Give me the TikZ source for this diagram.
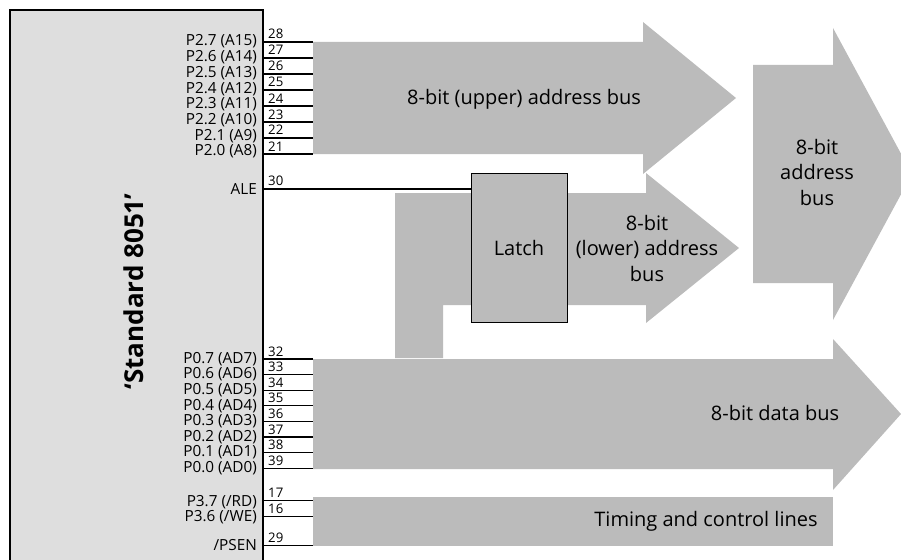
\documentclass[tikz,border=0pt]{standalone}
\usepackage{fontspec}
\setmainfont{Open Sans}
\definecolor{busgray}{RGB}{187,187,187}
\definecolor{chipgray}{RGB}{222,222,222}
\tikzset{
  bus/.style={fill=busgray, draw=none},
  pinline/.style={draw=black, line width=1.1pt},
  pinlabel/.style={anchor=base east, inner sep=0pt, font=\fontsize{15.3}{15}\selectfont},
  pinnum/.style={anchor=base west, inner sep=0pt, font=\fontsize{13.2}{14}\selectfont},
  buslabel/.style={inner sep=0pt, align=center, font=\fontsize{20}{25.5}\selectfont},
}
\begin{document}
\begin{tikzpicture}[x=1pt, y=-1pt]
\useasboundingbox (0,0) rectangle (901,559);
% chip
\draw[fill=chipgray, line width=2.6pt] (10,10) rectangle (263,580);
\node[rotate=90, inner sep=0pt, font=\fontsize{26}{28}\bfseries] (chip) at (134,291.5) {‘Standard 8051’};
% buses
\path[bus] (313,42) -- (643,42) -- (643,22) -- (736,98) -- (643,174) -- (643,154) -- (313,154) -- cycle;
\path[bus] (395,358) -- (395,193) -- (646,193) -- (646,173) -- (739,248) -- (646,323) -- (646,305) -- (443,305) -- (443,358) -- cycle;
\path[bus] (313,359) -- (833,359) -- (833,339) -- (901,414) -- (833,490) -- (833,469) -- (313,469) -- cycle;
\path[bus] (753,65) -- (833,65) -- (833,28) -- (912,174) -- (833,320) -- (833,283) -- (753,283) -- cycle;
\path[bus] (313,497) rectangle (833,546);
% latch
\node[draw=black, fill=busgray, line width=1pt, minimum width=96pt, minimum height=149pt, inner sep=0pt,
      font=\fontsize{20}{22}\selectfont] (latch) at (519,247.5) {Latch};
% bus labels
\node[buslabel] (upper) at (524,99) {8-bit (upper) address bus};
\node[buslabel] (lower) at (647,248) {8-bit\\(lower) address\\bus};
\node[buslabel] (addr) at (817,172) {8-bit\\address\\bus};
\node[buslabel] (data) at (775,413) {8-bit data bus};
\node[buslabel] (timing) at (706,521) {Timing and control lines};
% upper address pins
\foreach \n/\lab [count=\i from 0] in {28/P2.7 (A15),27/P2.6 (A14),26/P2.5 (A13),25/P2.4 (A12),24/P2.3 (A11),23/P2.2 (A10),22/P2.1 (A9),21/P2.0 (A8)}{
  \coordinate (pa\i) at (263,42+16*\i);
  \coordinate (pb\i) at (313,42+16*\i);
  \draw[pinline] (pa\i) -- (pb\i);
  \node[pinnum] (num\n) at (268,39+16*\i) {\n};
  \node[pinlabel] (lab\n) at (257,46+15.7*\i) {\lab};
}
% ALE
\coordinate (alea) at (263,189);
\draw[pinline] (alea) -- (alea -| latch.west);
\node[pinnum] (num30) at (268,185.5) {30};
\node[pinlabel] (lab30) at (257,194.7) {ALE};
% data pins
\foreach \n/\lab [count=\i from 0] in {32/P0.7 (AD7),33/P0.6 (AD6),34/P0.5 (AD5),35/P0.4 (AD4),36/P0.3 (AD3),37/P0.2 (AD2),38/P0.1 (AD1),39/P0.0 (AD0)}{
  \coordinate (da\i) at (263,359+15.6*\i);
  \coordinate (db\i) at (313,359+15.6*\i);
  \draw[pinline] (da\i) -- (db\i);
  \node[pinnum] (num\n) at (268,356+15.6*\i) {\n};
  \node[pinlabel] (lab\n) at (257,363.3+15.6*\i) {\lab};
}
% timing pins
\coordinate (ta17) at (263,500.5); \coordinate (tb17) at (313,500.5);
\coordinate (ta16) at (263,516.5); \coordinate (tb16) at (313,516.5);
\coordinate (ta29) at (263,545.5); \coordinate (tb29) at (313,545.5);
\draw[pinline] (ta17) -- (tb17);
\draw[pinline] (ta16) -- (tb16);
\draw[pinline] (ta29) -- (tb29);
\node[pinnum] (num17) at (268,497.5) {17};
\node[pinnum] (num16) at (268,513.5) {16};
\node[pinnum] (num29) at (268,542.5) {29};
\node[pinlabel] (lab17) at (257,506) {P3.7 (/RD)};
\node[pinlabel] (lab16) at (257,521.3) {P3.6 (/WE)};
\node[pinlabel] (lab29) at (257,550) {/PSEN};
\end{tikzpicture}
\end{document}
